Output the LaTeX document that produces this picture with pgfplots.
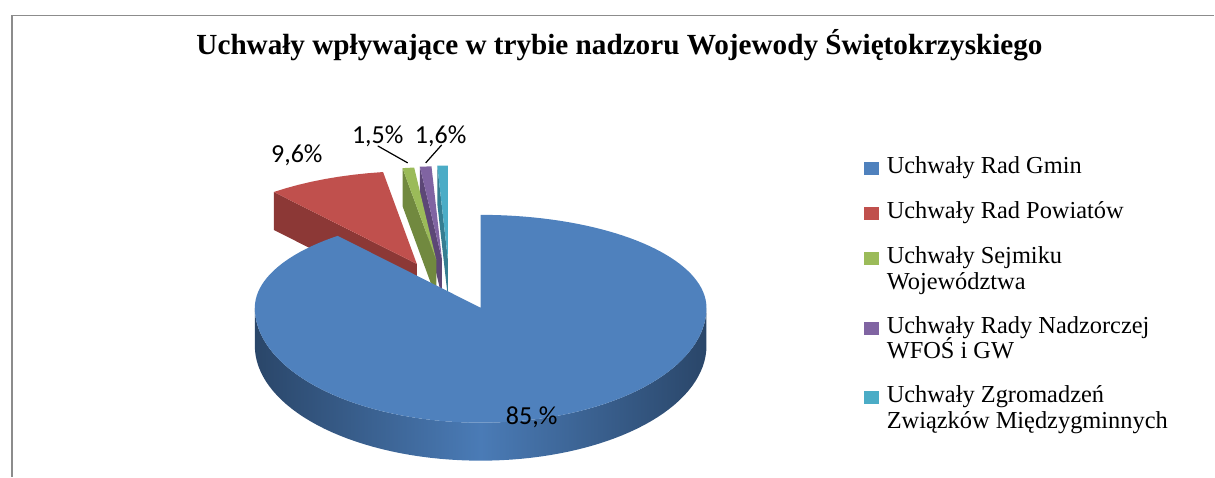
\documentclass[border=0pt]{standalone}
\usepackage{pgfplots}
\pgfplotsset{compat=1.18}
\usepackage{pgfplotstable}
\usepackage{fontspec}
\setmainfont{Liberation Serif}
\newfontfamily\lblfont{Carlito}

\definecolor{cBlue}{HTML}{4F81BD}
\definecolor{cRed}{HTML}{C0504D}
\definecolor{cGreen}{HTML}{9BBB59}
\definecolor{cPurple}{HTML}{8064A2}
\definecolor{cCyan}{HTML}{4BACC6}
\definecolor{dRed}{HTML}{8C3836}
\definecolor{dGreen}{HTML}{71893F}
\definecolor{dPurple}{HTML}{5C4776}
\definecolor{dCyan}{HTML}{357D91}
\definecolor{sBlueD}{HTML}{2A4669}
\definecolor{sBlueL}{HTML}{4A7BB6}
\definecolor{frameGray}{HTML}{8C8C8C}

% shares of the five groups of resolutions (per cent)
\pgfplotstableread{
idx value
0 85.8
1 9.6
2 1.5
3 1.6
4 1.5
}\piedata

\pgfplotstablegetelem{0}{value}\of{\piedata}\let\vA\pgfplotsretval
\pgfplotstablegetelem{1}{value}\of{\piedata}\let\vB\pgfplotsretval
\pgfplotstablegetelem{2}{value}\of{\piedata}\let\vC\pgfplotsretval
\pgfplotstablegetelem{3}{value}\of{\piedata}\let\vD\pgfplotsretval
\pgfplotstablegetelem{4}{value}\of{\piedata}\let\vE\pgfplotsretval

% geometry (picture units = pixels of the reference)
\def\cx{481}\def\cy{308}\def\rxx{226}\def\ryb{93}\def\ryf{115}\def\dep{38}
\pgfmathdeclarefunction{warp}{1}{\pgfmathparse{90+(#1-90)*(0.49+0.0001*(#1-90)*(#1-90))}}

\newcommand\addrimpt[3]{% angle, ox, oy
  \pgfmathsetmacro\ryy{ifthenelse(sin(#1)>0,\ryb,\ryf)}%
  \pgfmathsetmacro\px{\cx+#2+\rxx*cos(#1)}%
  \pgfmathsetmacro\py{\cy+#3-\ryy*sin(#1)}%
  \xdef\pts{\pts (\px,\py)}%
}
\newcommand\addrim[5]{% a0, a1, n, ox, oy
  \pgfmathsetmacro\astep{(#2-#1)/#3}%
  \foreach \k in {0,...,#3}{%
    \pgfmathsetmacro\ang{#1+\astep*\k}%
    \addrimpt{\ang}{#4}{#5}%
  }%
}
\newcommand\mkslice[3]{% name, lo, hi (true angles)
  \pgfmathsetmacro\alo{warp(#2)}%
  \pgfmathsetmacro\ahi{warp(#3)}%
  \pgfmathsetmacro\psiang{59+0.25*(#2+#3)}%
  \pgfmathsetmacro\ox{0.55*\rxx*cos(\psiang)}%
  \pgfmathsetmacro\oy{-0.55*\ryb*sin(\psiang)}%
  \pgfmathsetmacro\oyd{\oy+\dep}%
  \pgfmathsetmacro\apx{\cx+\ox}%
  \pgfmathsetmacro\apy{\cy+\oy}%
  \pgfmathsetmacro\apyd{\cy+\oy+\dep}%
  \xdef\pts{(\apx,\apy)}%
  \addrim{\alo}{\ahi}{8}{\ox}{\oy}%
  \global\expandafter\let\csname top#1\endcsname\pts
  \xdef\pts{(\apx,\apy)}%
  \addrimpt{\ahi}{\ox}{\oy}%
  \addrimpt{\ahi}{\ox}{\oyd}%
  \xdef\pts{\pts (\apx,\apyd)}%
  \global\expandafter\let\csname face#1\endcsname\pts
}

\pgfmathsetmacro\tot{\vA+\vB+\vC+\vD+\vE}
\pgfmathsetmacro\bE{90+360*\vE/\tot}
\pgfmathsetmacro\bD{\bE+360*\vD/\tot}
\pgfmathsetmacro\bC{\bD+360*\vC/\tot}
\pgfmathsetmacro\bB{\bC+360*\vB/\tot}
\mkslice{E}{90}{\bE}
\mkslice{D}{\bE}{\bD}
\mkslice{C}{\bD}{\bC}
\mkslice{B}{\bC}{\bB}
\pgfmathsetmacro\aB{warp(\bB)-360}
\xdef\pts{(\cx,\cy)}
\addrim{90}{\aB}{140}{0}{0}
\global\let\topA\pts
\xdef\pts{}
\addrim{180}{360}{70}{0}{0}
\addrim{360}{180}{70}{0}{\dep}
\global\let\sideA\pts

\begin{document}
\begin{tikzpicture}
\begin{axis}[
  scale only axis, width=607.5pt, height=238.5pt,
  xmin=0, xmax=1215, ymin=0, ymax=477, y dir=reverse,
  hide axis, clip=false]
\path (0,0) rectangle (1215,477);
\draw[frameGray, line width=0.9pt] (12,477) -- (12,15.5) -- (1215,15.5);
% exploded slices
\edef\tmp{\noexpand\addplot[draw=none,fill=dCyan,forget plot] coordinates {\faceE};}\tmp
\edef\tmp{\noexpand\addplot[draw=none,fill=cCyan,forget plot] coordinates {\topE};}\tmp
\edef\tmp{\noexpand\addplot[draw=none,fill=dPurple,forget plot] coordinates {\faceD};}\tmp
\edef\tmp{\noexpand\addplot[draw=none,fill=cPurple,forget plot] coordinates {\topD};}\tmp
\edef\tmp{\noexpand\addplot[draw=none,fill=dGreen,forget plot] coordinates {\faceC};}\tmp
\edef\tmp{\noexpand\addplot[draw=none,fill=cGreen,forget plot] coordinates {\topC};}\tmp
\edef\tmp{\noexpand\addplot[draw=none,fill=dRed,forget plot] coordinates {\faceB};}\tmp
\edef\tmp{\noexpand\addplot[draw=none,fill=cRed,forget plot] coordinates {\topB};}\tmp
% main slice
\edef\tmp{\noexpand\addplot[draw=none,left color=sBlueD,right color=sBlueD,middle color=sBlueL,forget plot] coordinates {\sideA};}\tmp
\edef\tmp{\noexpand\addplot[draw=none,fill=cBlue,forget plot] coordinates {\topA};}\tmp
% title
\node[anchor=base, inner sep=0pt, font=\bfseries\fontsize{14.6}{17}\selectfont] at (620,55) {Uchwały wpływające w trybie nadzoru Wojewody Świętokrzyskiego};
% data labels
\node[font=\lblfont\fontsize{13}{15}\selectfont] at (297,155) {9,6\%};
\node[font=\lblfont\fontsize{13}{15}\selectfont] at (378,136) {1,5\%};
\node[font=\lblfont\fontsize{13}{15}\selectfont] at (441,136) {1,6\%};
\node[font=\lblfont\fontsize{13}{15}\selectfont] at (532,418) {85,\%};
\draw[black, line width=0.6pt] (378,146) -- (408,163);
\draw[black, line width=0.6pt] (442,145) -- (426,163);
% legend
\fill[cBlue] (865,162) rectangle (880,175);
\fill[cRed] (865,207) rectangle (880,220);
\fill[cGreen] (865,252) rectangle (880,265);
\fill[cPurple] (865,322) rectangle (880,335);
\fill[cCyan] (865,391) rectangle (880,404);
\begin{scope}[every node/.style={anchor=base west, inner sep=0pt, font=\fontsize{12.2}{14}\selectfont}]
\node at (887,174) {Uchwały Rad Gmin};
\node at (887,219) {Uchwały Rad Powiatów};
\node at (887,264) {Uchwały Sejmiku};
\node at (887,290) {Województwa};
\node at (887,334) {Uchwały Rady Nadzorczej};
\node at (887,359) {WFOŚ i GW};
\node at (887,403) {Uchwały Zgromadzeń};
\node at (887,429) {Związków Międzygminnych};
\end{scope}
\end{axis}
\end{tikzpicture}
\end{document}
